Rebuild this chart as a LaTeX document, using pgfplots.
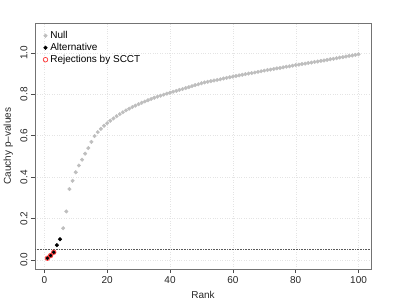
\documentclass[border=0pt]{standalone}
\usepackage{pgfplots}
\pgfplotsset{compat=1.18}
\usetikzlibrary{calc}
\usepackage{fontspec}
\setmainfont{Liberation Sans}
\definecolor{nullgray}{RGB}{190,190,190}
\definecolor{gridgray}{RGB}{228,228,228}
\begin{document}
\begin{tikzpicture}
\begin{axis}[
  scale only axis, width=336pt, height=246pt,
  xmin=-2.96, xmax=103.96, ymin=-0.044, ymax=1.144,
  xtick={0,20,40,60,80,100}, ytick={0,0.2,0.4,0.6,0.8,1.0},
  yticklabel style={/pgf/number format/.cd, fixed, fixed zerofill, precision=1, /tikz/.cd, rotate=90, anchor=south},
  /pgf/number format/assume math mode=true,
  tick align=outside, xtick pos=lower, ytick pos=left,
  major tick length=4pt,
  tick style={black!70, line width=0.5pt},
  axis line style={black!55, line width=0.7pt},
  grid=major, major grid style={dotted, gridgray, line width=0.4pt},
  font=\fontsize{10}{12}\selectfont,
  tick label style={font=\fontsize{10}{12}\selectfont, text=black!85},
  xlabel={Rank}, ylabel={Cauchy p\textendash values},
  xlabel style={at={(axis description cs:0.5,-0.1057)}, anchor=center, text=black!85},
  ylabel style={at={(axis description cs:-0.0795,0.5)}, anchor=center, text=black!85},
  legend cell align=left,
  legend style={at={(axis description cs:0,1)}, anchor=north west, draw=none, fill=none,
    xshift=5pt, yshift=-6pt, row sep=3pt,
    nodes={inner sep=0pt, text height=7pt, text depth=2pt, inner xsep=2.5pt},
    font=\fontsize{10}{12}\selectfont},
  legend image code/.code={\draw[#1] plot coordinates {(0.12cm,0cm)};},
]
\addplot[only marks, mark=*, mark size=1.8pt, color=nullgray] coordinates {
(6,0.153)(7,0.234)(8,0.342)(9,0.382)(10,0.423)(11,0.456)(12,0.484)(13,0.513)(14,0.540)(15,0.570)
(16,0.598)(17,0.617)(18,0.633)(19,0.648)(20,0.660)(21,0.672)(22,0.683)(23,0.694)(24,0.704)(25,0.713)
(26,0.722)(27,0.730)(28,0.738)(29,0.745)(30,0.752)(31,0.759)(32,0.765)(33,0.771)(34,0.777)(35,0.783)
(36,0.788)(37,0.793)(38,0.798)(39,0.803)(40,0.807)(41,0.812)(42,0.816)(43,0.821)(44,0.825)(45,0.830)
(46,0.834)(47,0.839)(48,0.844)(49,0.848)(50,0.853)(51,0.857)(52,0.860)(53,0.863)(54,0.866)(55,0.869)
(56,0.872)(57,0.876)(58,0.879)(59,0.882)(60,0.885)(61,0.888)(62,0.891)(63,0.894)(64,0.897)(65,0.900)
(66,0.902)(67,0.905)(68,0.908)(69,0.911)(70,0.914)(71,0.917)(72,0.919)(73,0.922)(74,0.925)(75,0.927)
(76,0.930)(77,0.933)(78,0.935)(79,0.938)(80,0.941)(81,0.943)(82,0.946)(83,0.948)(84,0.951)(85,0.953)
(86,0.956)(87,0.958)(88,0.961)(89,0.963)(90,0.966)(91,0.969)(92,0.971)(93,0.974)(94,0.977)(95,0.979)
(96,0.982)(97,0.985)(98,0.987)(99,0.990)(100,0.993)};
\addlegendentry{Null}
\addplot[only marks, mark=*, mark size=1.8pt, color=black] coordinates {
(1,0.008)(2,0.021)(3,0.037)(4,0.071)(5,0.100)};
\addlegendentry{Alternative}
\addplot[only marks, mark=o, mark size=2.3pt, color=red!80, line width=0.7pt] coordinates {
(1,0.008)(2,0.021)(3,0.037)};
\addlegendentry{Rejections by SCCT}
\addplot[forget plot, densely dotted, black!65, line width=0.6pt] coordinates {(-2.96,0.05)(103.96,0.05)};
\end{axis}
\path (current axis.south west) ++(-35pt,-32pt) rectangle ($(current axis.north east)+(35pt,23pt)$);
\end{tikzpicture}
\end{document}
